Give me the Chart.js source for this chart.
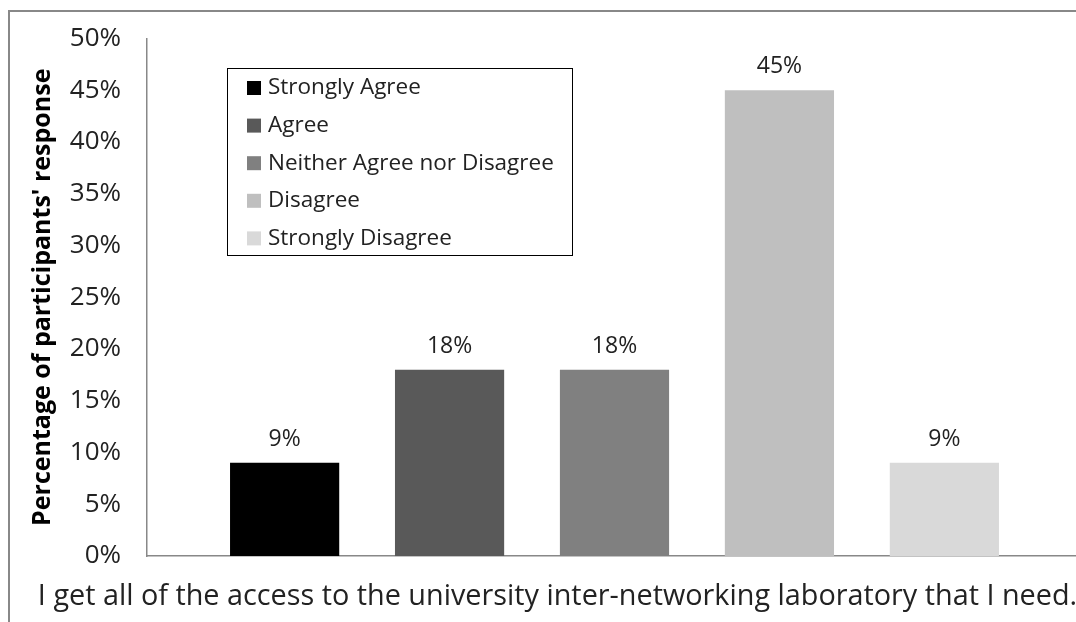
<!DOCTYPE html>
<html>
<head>
<meta charset="utf-8">
<script src="https://cdn.jsdelivr.net/npm/chart.js@4/dist/chart.umd.min.js"></script>
<style>
  html, body { margin: 0; padding: 0; background: #fff; overflow: hidden; width: 1076px; height: 622px; }
  #frame { position: absolute; left: 8px; top: 10px; width: 1100px; height: 640px; border: 2.5px solid #888; box-sizing: border-box; }
  #wrap { position: absolute; left: 0; top: 0; width: 1090px; height: 622px; }
</style>
</head>
<body>
<div id="frame"></div>
<div id="wrap"><canvas id="c" width="1090" height="622"></canvas></div>
<script>
const categories = ["I get all of the access to the university inter-networking laboratory that I need."];
const seriesNames = ["Strongly Agree", "Agree", "Neither Agree nor Disagree", "Disagree", "Strongly Disagree"];
const seriesValues = [9, 18, 18, 45, 9];
const seriesColors = ["#000000", "#595959", "#808080", "#bfbfbf", "#d9d9d9"];
const yTicks = [0, 5, 10, 15, 20, 25, 30, 35, 40, 45, 50];
const yTitle = "Percentage of participants' response";

const FONT = "'Open Sans', Lato, sans-serif";

const datasets = seriesNames.map((n, i) => ({
  label: n,
  data: [seriesValues[i]],
  backgroundColor: seriesColors[i],
  borderWidth: 0,
  categoryPercentage: 0.882,
  barPercentage: 0.662
}));

const valueLabels = {
  id: 'valueLabels',
  afterDatasetsDraw(chart) {
    const ctx = chart.ctx;
    ctx.save();
    ctx.font = "23px " + FONT;
    ctx.fillStyle = "#222";
    ctx.textAlign = "center";
    ctx.textBaseline = "alphabetic";
    chart.data.datasets.forEach((ds, i) => {
      const meta = chart.getDatasetMeta(i);
      meta.data.forEach((el, j) => {
        ctx.fillText(ds.data[j] + "%", el.x, el.y - 17);
      });
    });
    ctx.restore();
  }
};

const boxLegend = {
  id: 'boxLegend',
  afterDraw(chart) {
    const ctx = chart.ctx;
    const x0 = 227.5, y0 = 68.5, w = 345, h = 187;
    ctx.save();
    ctx.fillStyle = "#fff";
    ctx.fillRect(x0, y0, w, h);
    ctx.strokeStyle = "#000";
    ctx.lineWidth = 1;
    ctx.strokeRect(x0, y0, w, h);
    ctx.font = "22.5px " + FONT;
    ctx.textBaseline = "middle";
    ctx.textAlign = "left";
    chart.data.datasets.forEach((ds, i) => {
      const cy = 88 + i * 37.6;
      ctx.fillStyle = ds.backgroundColor;
      ctx.fillRect(247, cy - 7, 14, 14);
      ctx.fillStyle = "#222";
      ctx.fillText(ds.label, 268, cy);
    });
    ctx.restore();
  }
};

new Chart(document.getElementById('c'), {
  type: 'bar',
  data: { labels: categories, datasets },
  options: {
    responsive: false,
    animation: false,
    devicePixelRatio: 1,
    layout: { padding: { left: 0, right: 8, top: 38.5, bottom: 0 } },
    plugins: { legend: { display: false }, tooltip: { enabled: false } },
    scales: {
      x: {
        grid: { display: false, drawTicks: false },
        border: { color: "#888", width: 1.5 },
        ticks: { color: "#222", font: { family: FONT, size: 28.8 }, padding: 24, labelOffset: -57, maxRotation: 0, autoSkip: false },
        afterFit(s) { s.height = 66; s.paddingLeft = 0; s.paddingRight = 0; }
      },
      y: {
        min: 0, max: 50,
        afterBuildTicks(s) { s.ticks = yTicks.map(v => ({ value: v })); },
        grid: { display: false, drawTicks: false },
        border: { color: "#888", width: 1.5 },
        ticks: { color: "#222", font: { family: FONT, size: 26 }, padding: 26, callback: v => v + "%" },
        title: { display: true, text: yTitle, color: "#000", font: { family: FONT, size: 25, weight: 'bold' }, padding: { top: 28, bottom: 0 } },
        afterFit(s) { s.width = 147; s.paddingTop = 0; s.paddingBottom = 0; }
      }
    }
  },
  plugins: [valueLabels, boxLegend]
});
</script>
</body>
</html>
